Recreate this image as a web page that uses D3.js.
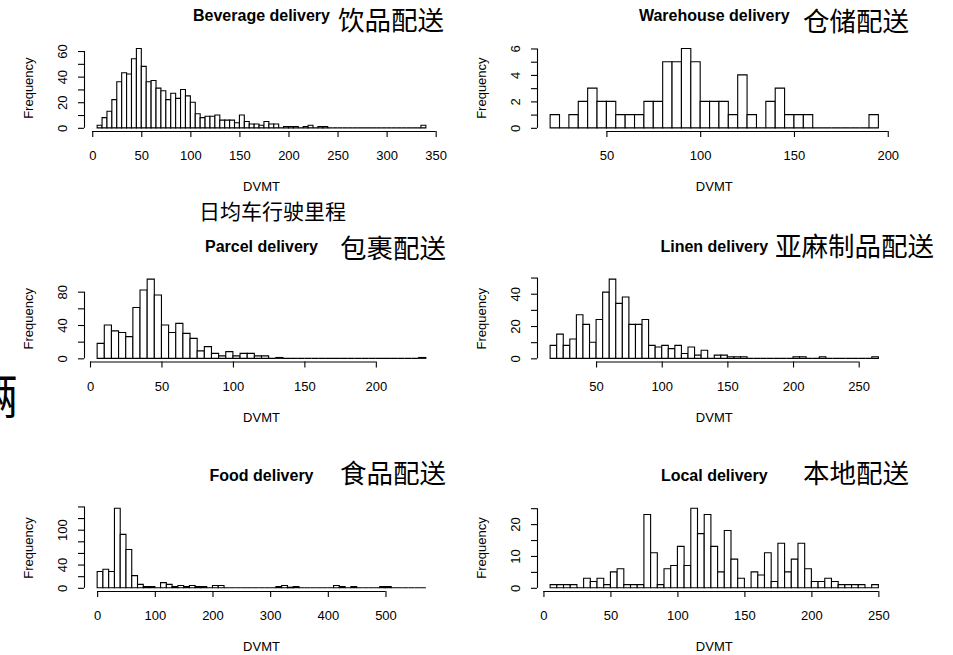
<!DOCTYPE html>
<html>
<head>
<meta charset="utf-8">
<script src="https://cdn.jsdelivr.net/npm/d3@7"></script>
<style>
  body { margin: 0; background: #fff; }
  svg { display: block; }
</style>
</head>
<body>
<svg id="chart" width="953" height="655"></svg>
<script>
// Histograms of daily vehicle miles travelled (DVMT) for six delivery fleet types.

const titles   = ["Beverage delivery", "Warehouse delivery", "Parcel delivery",
                  "Linen delivery", "Food delivery", "Local delivery"];
const titlesZh = ["饮品配送", "仓储配送", "包裹配送", "亚麻制品配送", "食品配送", "本地配送"];

// first bin edge and bin width (miles) of each histogram
const binStarts = [5, 20, 5, 15, 0, 5];
const binWidths = [5, 5, 5, 5, 10, 5];

// counts per bin
const beverageCounts = [2, 8, 13, 22, 36, 43, 42, 54, 62, 48, 36, 37, 31, 29, 22, 27, 23, 30, 25, 20,
  11, 8, 9, 9, 10, 6, 6, 6, 4, 10, 5, 3, 3, 2, 5, 3, 3, 0, 1, 1, 1, 0, 1, 2, 0, 1, 1,
  0, 0, 0, 0, 0, 0, 0, 0, 0, 0, 0, 0, 0, 0, 0, 0, 0, 0, 0, 2];
const warehouseCounts = [1, 0, 1, 2, 3, 2, 2, 1, 1, 1, 2, 2, 5, 5, 6, 5, 2, 2, 2, 1, 4, 1, 0, 2, 3,
  1, 1, 1, 0, 0, 0, 0, 0, 0, 1];
const parcelCounts = [18, 40, 33, 31, 26, 61, 82, 95, 76, 40, 31, 42, 30, 24, 9, 14, 6, 3, 8, 3,
  6, 6, 3, 3, 0, 1, 0, 0, 0, 0, 0, 0, 0, 0, 0, 0, 0, 0, 0, 0, 0, 0, 0, 0, 0, 1];
const linenCounts = [8, 15, 8, 12, 27, 21, 10, 24, 41, 49, 34, 38, 21, 21, 24, 8, 7, 8, 6, 8, 3, 7,
  2, 5, 0, 2, 2, 1, 1, 1, 0, 0, 0, 0, 0, 0, 0, 1, 1, 0, 0, 1, 0, 0, 0, 0, 0, 0, 0, 1];
const foodCounts = [28, 32, 28, 137, 92, 66, 21, 6, 2, 2, 0, 9, 6, 2, 4, 2, 4, 2, 2, 0, 4, 4,
  0, 0, 0, 0, 0, 0, 0, 0, 0, 2, 4, 1, 2, 0, 0, 0, 0, 0, 0, 4, 2, 0, 2, 0, 0, 0, 0, 2, 2,
  0, 0, 0, 0, 0, 0];
const localCounts = [1, 1, 1, 1, 0, 3, 2, 3, 1, 5, 6, 1, 1, 1, 23, 11, 1, 6, 7, 13, 7, 25, 17, 23,
  13, 5, 18, 9, 3, 0, 5, 4, 11, 2, 14, 5, 9, 14, 6, 2, 2, 3, 2, 1, 1, 1, 1, 0, 1];

// axis ticks and the tick labels that are printed
const xTicks = [
  [0, 50, 100, 150, 200, 250, 300, 350],
  [50, 100, 150, 200],
  [0, 50, 100, 150, 200],
  [50, 100, 150, 200, 250],
  [0, 100, 200, 300, 400, 500],
  [0, 50, 100, 150, 200, 250]
];
const yTicks = [
  [0, 10, 20, 30, 40, 50, 60],
  [0, 1, 2, 3, 4, 5, 6],
  [0, 20, 40, 60, 80],
  [0, 10, 20, 30, 40, 50],
  [0, 20, 40, 60, 80, 100, 120, 140],
  [0, 5, 10, 15, 20, 25]
];
const yLabels = [
  [0, 20, 40, 60],
  [0, 2, 4, 6],
  [0, 40, 80],
  [0, 20, 40],
  [0, 40, 100],
  [0, 10, 20]
];

const countsList = [beverageCounts, warehouseCounts, parcelCounts, linenCounts, foodCounts, localCounts];

// ---- layout ----
const colX = [[84, 439], [537, 891.5]];
const rowY = [[45.3, 131], [276, 361.5], [505, 591]];
const FONT = "'Liberation Sans', Arial, Helvetica, sans-serif";
const CJK = "'Noto Sans CJK SC', 'Noto Sans', sans-serif";

const svg = d3.select("#chart");
svg.append("rect").attr("width", 953).attr("height", 655).attr("fill", "#fff");

countsList.forEach((counts, i) => {
  const [L, R] = colX[i % 2];
  const [T, B] = rowY[Math.floor(i / 2)];
  const lo = binStarts[i], w = binWidths[i];
  const hi = lo + counts.length * w;
  const pad = 0.04 * (hi - lo);
  const maxC = d3.max(counts);

  const x = d3.scaleLinear().domain([lo - pad, hi + pad]).range([L, R]);
  const y = d3.scaleLinear().domain([-0.04 * maxC, 1.04 * maxC]).range([B, T]);

  const g = svg.append("g");

  // bars (paths so that empty bins still show as a line on the baseline)
  g.append("g").selectAll("path").data(counts).join("path")
    .attr("d", (c, j) => {
      const x0 = x(lo + j * w), x1 = x(lo + (j + 1) * w);
      const y0 = y(0), y1 = y(c);
      return `M${x0},${y0}V${y1}H${x1}V${y0}Z`;
    })
    .attr("fill", "#fff")
    .attr("stroke", "#000")
    .attr("stroke-width", 1.1);

  // x axis
  const xt = xTicks[i];
  const gx = g.append("g").attr("transform", `translate(0,${B})`)
    .call(d3.axisBottom(x).tickValues(xt).tickSize(6).tickFormat(d3.format("d")));
  gx.select(".domain").remove();
  gx.append("line")
    .attr("x1", x(xt[0])).attr("x2", x(xt[xt.length - 1]))
    .attr("y1", 0.5).attr("y2", 0.5)
    .attr("stroke", "#000").attr("stroke-width", 1.1);
  gx.selectAll(".tick line").attr("stroke", "#000").attr("stroke-width", 1.1);
  gx.selectAll(".tick text")
    .attr("y", 29).attr("dy", null)
    .attr("fill", "#000")
    .style("font-family", FONT).style("font-size", "13px");

  // y axis
  const yt = yTicks[i], yl = yLabels[i];
  const gy = g.append("g").attr("transform", `translate(${L},0)`)
    .call(d3.axisLeft(y).tickValues(yt).tickSize(6)
      .tickFormat(d => yl.includes(d) ? String(d) : ""));
  gy.select(".domain").remove();
  gy.append("line")
    .attr("x1", 0.5).attr("x2", 0.5)
    .attr("y1", y(yt[0])).attr("y2", y(yt[yt.length - 1]))
    .attr("stroke", "#000").attr("stroke-width", 1.1);
  gy.selectAll(".tick line").attr("stroke", "#000").attr("stroke-width", 1.1);
  gy.selectAll(".tick text")
    .attr("x", 0).attr("y", -17.5).attr("dy", null)
    .attr("transform", "rotate(-90)")
    .attr("text-anchor", "middle")
    .attr("fill", "#000")
    .style("font-family", FONT).style("font-size", "13px");

  // axis titles
  g.append("text")
    .attr("x", (L + R) / 2).attr("y", B + 60.3)
    .attr("text-anchor", "middle")
    .style("font-family", FONT).style("font-size", "13px")
    .text("DVMT");
  g.append("text")
    .attr("transform", `translate(${L - 51},${(T + B) / 2}) rotate(-90)`)
    .attr("text-anchor", "middle")
    .style("font-family", FONT).style("font-size", "13px")
    .text("Frequency");

  // panel title
  g.append("text")
    .attr("x", (L + R) / 2).attr("y", T - 24.5)
    .attr("text-anchor", "middle")
    .style("font-family", FONT).style("font-size", "16px").style("font-weight", "bold")
    .text(titles[i]);
});

// Chinese annotations
const zhPos = [[338, 30], [803, 31], [340, 258], [775, 256], [340, 483], [803, 483]];
titlesZh.forEach((t, i) => {
  svg.append("text")
    .attr("x", zhPos[i][0]).attr("y", zhPos[i][1])
    .style("font-family", CJK).style("font-size", "26.5px")
    .attr("fill", "#000")
    .text(t);
});
svg.append("text")
  .attr("x", 199).attr("y", 218.5)
  .style("font-family", CJK).style("font-size", "21px")
  .attr("fill", "#000")
  .text("日均车行驶里程");
svg.append("text")
  .attr("x", -30).attr("y", 414)
  .style("font-family", CJK).style("font-size", "48px")
  .attr("fill", "#000")
  .text("辆");
</script>
</body>
</html>
